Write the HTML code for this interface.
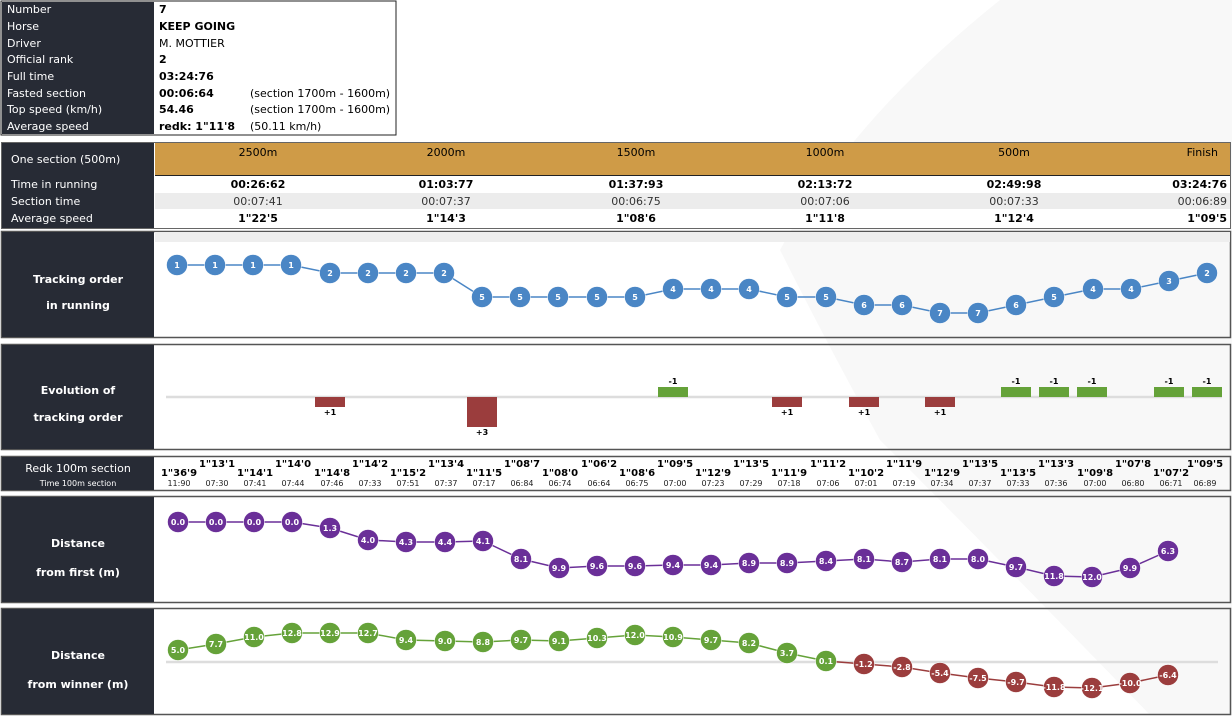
<!DOCTYPE html>
<html><head><meta charset="utf-8">
<style>
html,body{margin:0;padding:0;background:#fff;width:1232px;height:718px;overflow:hidden}
svg{display:block}
text{font-family:"DejaVu Sans","Liberation Sans",sans-serif}
.lab{fill:#fff;font-size:11px}
.lb{fill:#fff;font-size:11px;font-weight:bold}
.v{fill:#000;font-size:11px}
.vb{fill:#000;font-size:11px;font-weight:bold}
.c{font-size:8px;font-weight:bold;fill:#fff}
.r{font-size:10px;font-weight:bold;fill:#000}
.t{font-size:8px;fill:#222}
</style></head><body>
<svg width="1232" height="718" viewBox="0 0 1232 718" xmlns="http://www.w3.org/2000/svg">
<!-- background swoosh -->
<path d="M1000,0 L1232,0 L1232,715 L1150,715 Q1000,560 880,440 Q820,330 780,250 Q850,120 1000,0 Z" fill="#f8f8f8"/>

<!-- info table -->
<rect x="1" y="1" width="395" height="134" fill="#fff" stroke="#222" stroke-width="1"/>
<rect x="2" y="2" width="152" height="132" fill="#272b35"/>
<g class="lab">
<text x="7" y="13">Number</text><text x="7" y="30">Horse</text><text x="7" y="47">Driver</text>
<text x="7" y="63">Official rank</text><text x="7" y="80">Full time</text><text x="7" y="97">Fasted section</text>
<text x="7" y="113">Top speed (km/h)</text><text x="7" y="130">Average speed</text></g>
<text class="vb" x="159" y="13">7</text><text class="vb" x="159" y="30">KEEP GOING</text>
<text class="v" x="159" y="47">M. MOTTIER</text><text class="vb" x="159" y="63">2</text>
<text class="vb" x="159" y="80">03:24:76</text><text class="vb" x="159" y="97">00:06:64</text>
<text class="vb" x="159" y="113">54.46</text><text class="vb" x="159" y="130">redk: 1"11'8</text>
<text class="v" x="250" y="97">(section 1700m - 1600m)</text>
<text class="v" x="250" y="113">(section 1700m - 1600m)</text>
<text class="v" x="250" y="130">(50.11 km/h)</text>

<!-- section table -->
<rect x="1.5" y="142.5" width="1229" height="86" fill="#fff" stroke="#666"/>
<rect x="2" y="143" width="152" height="85" fill="#272b35"/>
<rect x="155" y="143" width="1075" height="32" fill="#cf9b47"/>
<line x1="155" y1="175.5" x2="1230" y2="175.5" stroke="#222"/>
<rect x="155" y="193" width="1075" height="16" fill="#ececec"/>
<text class="lab" x="11" y="163">One section (500m)</text>
<text class="lab" x="11" y="188">Time in running</text>
<text class="lab" x="11" y="205">Section time</text>
<text class="lab" x="11" y="222">Average speed</text>
<g font-size="11" text-anchor="middle">
<text x="258" y="156">2500m</text><text x="446" y="156">2000m</text><text x="636" y="156">1500m</text>
<text x="825" y="156">1000m</text><text x="1014" y="156">500m</text><text x="1218" y="156" text-anchor="end">Finish</text>
<g font-weight="bold"><text x="258" y="188">00:26:62</text><text x="446" y="188">01:03:77</text><text x="636" y="188">01:37:93</text><text x="825" y="188">02:13:72</text><text x="1014" y="188">02:49:98</text><text x="1227" y="188" text-anchor="end">03:24:76</text></g>
<g fill="#333"><text x="258" y="205">00:07:41</text><text x="446" y="205">00:07:37</text><text x="636" y="205">00:06:75</text><text x="825" y="205">00:07:06</text><text x="1014" y="205">00:07:33</text><text x="1227" y="205" text-anchor="end">00:06:89</text></g>
<g font-weight="bold"><text x="258" y="222">1"22'5</text><text x="446" y="222">1"14'3</text><text x="636" y="222">1"08'6</text><text x="825" y="222">1"11'8</text><text x="1014" y="222">1"12'4</text><text x="1227" y="222" text-anchor="end">1"09'5</text></g>
</g>

<!-- panels -->
<g fill="none" stroke="#555" stroke-width="1.5">
<rect x="1.5" y="231.5" width="1229" height="106"/>
<rect x="1.5" y="344.5" width="1229" height="105"/>
<rect x="1.5" y="456.5" width="1229" height="34"/>
<rect x="1.5" y="496.5" width="1229" height="106"/>
<rect x="1.5" y="608.5" width="1229" height="106"/>
</g>
<rect x="155" y="232" width="1075" height="10" fill="#eee"/>
<g fill="#272b35">
<rect x="2" y="232" width="152" height="105"/><rect x="2" y="345" width="152" height="104"/>
<rect x="2" y="457" width="152" height="33"/><rect x="2" y="497" width="152" height="105"/>
<rect x="2" y="609" width="152" height="105"/></g>
<g class="lb" text-anchor="middle">
<text x="78" y="283">Tracking order</text><text x="78" y="309">in running</text>
<text x="78" y="394">Evolution of</text><text x="78" y="421">tracking order</text>
<text x="78" y="547">Distance</text><text x="78" y="576">from first (m)</text>
<text x="78" y="659">Distance</text><text x="78" y="688">from winner (m)</text>
</g>
<text x="78" y="472" text-anchor="middle" class="lab">Redk 100m section</text>
<text x="78" y="486" text-anchor="middle" fill="#fff" font-size="8">Time 100m section</text>

<!-- tracking order -->
<polyline fill="none" stroke="#4a86c5" stroke-width="1.5" points="177,265 215,265 253,265 291,265 330,273 368,273 406,273 444,273 482,297 520,297 558,297 597,297 635,297 673,289 711,289 749,289 787,297 826,297 864,305 902,305 940,313 978,313 1016,305 1054,297 1093,289 1131,289 1169,281 1207,273"/>
<g fill="#4a86c5" stroke="#fff" stroke-width="0.5">
<circle cx="177" cy="265" r="10.5"/><circle cx="215" cy="265" r="10.5"/><circle cx="253" cy="265" r="10.5"/><circle cx="291" cy="265" r="10.5"/><circle cx="330" cy="273" r="10.5"/><circle cx="368" cy="273" r="10.5"/><circle cx="406" cy="273" r="10.5"/><circle cx="444" cy="273" r="10.5"/><circle cx="482" cy="297" r="10.5"/><circle cx="520" cy="297" r="10.5"/><circle cx="558" cy="297" r="10.5"/><circle cx="597" cy="297" r="10.5"/><circle cx="635" cy="297" r="10.5"/><circle cx="673" cy="289" r="10.5"/><circle cx="711" cy="289" r="10.5"/><circle cx="749" cy="289" r="10.5"/><circle cx="787" cy="297" r="10.5"/><circle cx="826" cy="297" r="10.5"/><circle cx="864" cy="305" r="10.5"/><circle cx="902" cy="305" r="10.5"/><circle cx="940" cy="313" r="10.5"/><circle cx="978" cy="313" r="10.5"/><circle cx="1016" cy="305" r="10.5"/><circle cx="1054" cy="297" r="10.5"/><circle cx="1093" cy="289" r="10.5"/><circle cx="1131" cy="289" r="10.5"/><circle cx="1169" cy="281" r="10.5"/><circle cx="1207" cy="273" r="10.5"/></g>
<g class="c" text-anchor="middle">
<text x="177" y="268">1</text><text x="215" y="268">1</text><text x="253" y="268">1</text><text x="291" y="268">1</text><text x="330" y="276">2</text><text x="368" y="276">2</text><text x="406" y="276">2</text><text x="444" y="276">2</text><text x="482" y="300">5</text><text x="520" y="300">5</text><text x="558" y="300">5</text><text x="597" y="300">5</text><text x="635" y="300">5</text><text x="673" y="292">4</text><text x="711" y="292">4</text><text x="749" y="292">4</text><text x="787" y="300">5</text><text x="826" y="300">5</text><text x="864" y="308">6</text><text x="902" y="308">6</text><text x="940" y="316">7</text><text x="978" y="316">7</text><text x="1016" y="308">6</text><text x="1054" y="300">5</text><text x="1093" y="292">4</text><text x="1131" y="292">4</text><text x="1169" y="284">3</text><text x="1207" y="276">2</text></g>

<!-- evolution -->
<line x1="166" y1="397" x2="1222" y2="397" stroke="#ddd" stroke-width="2.5"/>
<g fill="#9b3d3d"><rect x="315" y="397" width="30" height="10"/><rect x="467" y="397" width="30" height="30"/><rect x="772" y="397" width="30" height="10"/><rect x="849" y="397" width="30" height="10"/><rect x="925" y="397" width="30" height="10"/></g>
<g fill="#65a239"><rect x="658" y="387" width="30" height="10"/><rect x="1001" y="387" width="30" height="10"/><rect x="1039" y="387" width="30" height="10"/><rect x="1077" y="387" width="30" height="10"/><rect x="1154" y="387" width="30" height="10"/><rect x="1192" y="387" width="30" height="10"/></g>
<g class="c" style="fill:#000" text-anchor="middle">
<text x="330" y="415">+1</text><text x="482" y="435">+3</text><text x="787" y="415">+1</text><text x="864" y="415">+1</text><text x="940" y="415">+1</text>
<text x="673" y="384">-1</text><text x="1016" y="384">-1</text><text x="1054" y="384">-1</text><text x="1092" y="384">-1</text><text x="1169" y="384">-1</text><text x="1207" y="384">-1</text></g>

<!-- redk -->
<g class="r" text-anchor="middle">
<text x="179" y="476">1"36'9</text><text x="217" y="467">1"13'1</text><text x="255" y="476">1"14'1</text><text x="293" y="467">1"14'0</text><text x="332" y="476">1"14'8</text><text x="370" y="467">1"14'2</text><text x="408" y="476">1"15'2</text><text x="446" y="467">1"13'4</text><text x="484" y="476">1"11'5</text><text x="522" y="467">1"08'7</text><text x="560" y="476">1"08'0</text><text x="599" y="467">1"06'2</text><text x="637" y="476">1"08'6</text><text x="675" y="467">1"09'5</text><text x="713" y="476">1"12'9</text><text x="751" y="467">1"13'5</text><text x="789" y="476">1"11'9</text><text x="828" y="467">1"11'2</text><text x="866" y="476">1"10'2</text><text x="904" y="467">1"11'9</text><text x="942" y="476">1"12'9</text><text x="980" y="467">1"13'5</text><text x="1018" y="476">1"13'5</text><text x="1056" y="467">1"13'3</text><text x="1095" y="476">1"09'8</text><text x="1133" y="467">1"07'8</text><text x="1171" y="476">1"07'2</text><text x="1205" y="467">1"09'5</text></g>
<g class="t" text-anchor="middle">
<text x="179" y="486">11:90</text><text x="217" y="486">07:30</text><text x="255" y="486">07:41</text><text x="293" y="486">07:44</text><text x="332" y="486">07:46</text><text x="370" y="486">07:33</text><text x="408" y="486">07:51</text><text x="446" y="486">07:37</text><text x="484" y="486">07:17</text><text x="522" y="486">06:84</text><text x="560" y="486">06:74</text><text x="599" y="486">06:64</text><text x="637" y="486">06:75</text><text x="675" y="486">07:00</text><text x="713" y="486">07:23</text><text x="751" y="486">07:29</text><text x="789" y="486">07:18</text><text x="828" y="486">07:06</text><text x="866" y="486">07:01</text><text x="904" y="486">07:19</text><text x="942" y="486">07:34</text><text x="980" y="486">07:37</text><text x="1018" y="486">07:33</text><text x="1056" y="486">07:36</text><text x="1095" y="486">07:00</text><text x="1133" y="486">06:80</text><text x="1171" y="486">06:71</text><text x="1205" y="486">06:89</text></g>

<!-- distance from first -->
<polyline fill="none" stroke="#6a2f98" stroke-width="1.5" points="178,522 216,522 254,522 292,522 330,528 368,540 406,542 445,542 483,541 521,559 559,568 597,566 635,566 673,565 711,565 749,563 787,563 826,561 864,559 902,562 940,559 978,559 1016,567 1054,576 1092,577 1130,568 1168,551"/>
<g fill="#6a2f98" stroke="#fff" stroke-width="0.5">
<circle cx="178" cy="522" r="10.5"/><circle cx="216" cy="522" r="10.5"/><circle cx="254" cy="522" r="10.5"/><circle cx="292" cy="522" r="10.5"/><circle cx="330" cy="528" r="10.5"/><circle cx="368" cy="540" r="10.5"/><circle cx="406" cy="542" r="10.5"/><circle cx="445" cy="542" r="10.5"/><circle cx="483" cy="541" r="10.5"/><circle cx="521" cy="559" r="10.5"/><circle cx="559" cy="568" r="10.5"/><circle cx="597" cy="566" r="10.5"/><circle cx="635" cy="566" r="10.5"/><circle cx="673" cy="565" r="10.5"/><circle cx="711" cy="565" r="10.5"/><circle cx="749" cy="563" r="10.5"/><circle cx="787" cy="563" r="10.5"/><circle cx="826" cy="561" r="10.5"/><circle cx="864" cy="559" r="10.5"/><circle cx="902" cy="562" r="10.5"/><circle cx="940" cy="559" r="10.5"/><circle cx="978" cy="559" r="10.5"/><circle cx="1016" cy="567" r="10.5"/><circle cx="1054" cy="576" r="10.5"/><circle cx="1092" cy="577" r="10.5"/><circle cx="1130" cy="568" r="10.5"/><circle cx="1168" cy="551" r="10.5"/></g>
<g class="c" text-anchor="middle">
<text x="178" y="525">0.0</text><text x="216" y="525">0.0</text><text x="254" y="525">0.0</text><text x="292" y="525">0.0</text><text x="330" y="531">1.3</text><text x="368" y="543">4.0</text><text x="406" y="545">4.3</text><text x="445" y="545">4.4</text><text x="483" y="544">4.1</text><text x="521" y="562">8.1</text><text x="559" y="571">9.9</text><text x="597" y="569">9.6</text><text x="635" y="569">9.6</text><text x="673" y="568">9.4</text><text x="711" y="568">9.4</text><text x="749" y="566">8.9</text><text x="787" y="566">8.9</text><text x="826" y="564">8.4</text><text x="864" y="562">8.1</text><text x="902" y="565">8.7</text><text x="940" y="562">8.1</text><text x="978" y="562">8.0</text><text x="1016" y="570">9.7</text><text x="1054" y="579">11.8</text><text x="1092" y="580">12.0</text><text x="1130" y="571">9.9</text><text x="1168" y="554">6.3</text></g>

<!-- distance from winner -->
<line x1="166" y1="662" x2="1218" y2="662" stroke="#ddd" stroke-width="2.5"/>
<polyline fill="none" stroke="#65a239" stroke-width="1.5" points="178,650 216,644 254,637 292,633 330,633 368,633 406,640 445,641 483,642 521,640 559,641 597,638 635,635 673,637 711,640 749,643 787,653 826,661"/>
<polyline fill="none" stroke="#9b3d3d" stroke-width="1.5" points="826,661 864,664 902,667 940,673 978,678 1016,682 1054,687 1092,688 1130,683 1168,675"/>
<g fill="#65a239" stroke="#fff" stroke-width="0.5">
<circle cx="178" cy="650" r="10.5"/><circle cx="216" cy="644" r="10.5"/><circle cx="254" cy="637" r="10.5"/><circle cx="292" cy="633" r="10.5"/><circle cx="330" cy="633" r="10.5"/><circle cx="368" cy="633" r="10.5"/><circle cx="406" cy="640" r="10.5"/><circle cx="445" cy="641" r="10.5"/><circle cx="483" cy="642" r="10.5"/><circle cx="521" cy="640" r="10.5"/><circle cx="559" cy="641" r="10.5"/><circle cx="597" cy="638" r="10.5"/><circle cx="635" cy="635" r="10.5"/><circle cx="673" cy="637" r="10.5"/><circle cx="711" cy="640" r="10.5"/><circle cx="749" cy="643" r="10.5"/><circle cx="787" cy="653" r="10.5"/><circle cx="826" cy="661" r="10.5"/></g>
<g fill="#9b3d3d" stroke="#fff" stroke-width="0.5">
<circle cx="864" cy="664" r="10.5"/><circle cx="902" cy="667" r="10.5"/><circle cx="940" cy="673" r="10.5"/><circle cx="978" cy="678" r="10.5"/><circle cx="1016" cy="682" r="10.5"/><circle cx="1054" cy="687" r="10.5"/><circle cx="1092" cy="688" r="10.5"/><circle cx="1130" cy="683" r="10.5"/><circle cx="1168" cy="675" r="10.5"/></g>
<g class="c" text-anchor="middle">
<text x="178" y="653">5.0</text><text x="216" y="647">7.7</text><text x="254" y="640">11.0</text><text x="292" y="636">12.8</text><text x="330" y="636">12.9</text><text x="368" y="636">12.7</text><text x="406" y="643">9.4</text><text x="445" y="644">9.0</text><text x="483" y="645">8.8</text><text x="521" y="643">9.7</text><text x="559" y="644">9.1</text><text x="597" y="641">10.3</text><text x="635" y="638">12.0</text><text x="673" y="640">10.9</text><text x="711" y="643">9.7</text><text x="749" y="646">8.2</text><text x="787" y="656">3.7</text><text x="826" y="664">0.1</text><text x="864" y="667">-1.2</text><text x="902" y="670">-2.8</text><text x="940" y="676">-5.4</text><text x="978" y="681">-7.5</text><text x="1016" y="685">-9.7</text><text x="1054" y="690">-11.8</text><text x="1092" y="691">-12.1</text><text x="1130" y="686">-10.0</text><text x="1168" y="678">-6.4</text></g>
</svg>
</body></html>
